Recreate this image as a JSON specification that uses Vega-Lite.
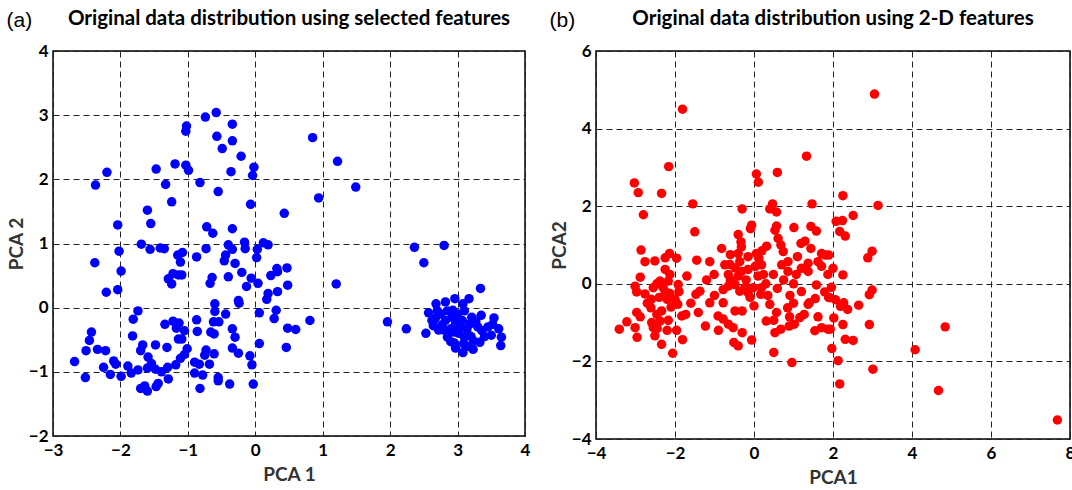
{
  "$schema": "https://vega.github.io/schema/vega-lite/v6.json",
  "padding": {"left": 6, "top": 7, "right": 0, "bottom": 0},
  "background": "white",
  "datasets": {
    "a": [
      {"x":-0.58,"y":3.04},{"x":-0.74,"y":2.97},{"x":-1.02,"y":2.83},{"x":-1.03,"y":2.75},{"x":-0.34,"y":2.86},{"x":-0.57,"y":2.67},{"x":-0.34,"y":2.60},{"x":-0.49,"y":2.48},{"x":-0.21,"y":2.36},{"x":-0.02,"y":2.19},{"x":-0.04,"y":2.06},{"x":-2.20,"y":2.11},{"x":-2.37,"y":1.91},{"x":-1.47,"y":2.16},{"x":-1.19,"y":2.24},{"x":-1.03,"y":2.22},{"x":-0.99,"y":2.14},{"x":-0.36,"y":2.12},{"x":-1.33,"y":1.92},{"x":-0.82,"y":1.95},{"x":-0.55,"y":1.81},{"x":-1.24,"y":1.65},{"x":-0.07,"y":1.61},{"x":0.43,"y":1.47},{"x":-1.60,"y":1.52},{"x":-1.55,"y":1.31},{"x":-2.04,"y":1.29},{"x":-0.72,"y":1.26},{"x":-0.63,"y":1.16},{"x":-0.34,"y":1.23},{"x":-1.69,"y":0.99},{"x":-2.02,"y":0.88},{"x":-1.56,"y":0.91},{"x":-1.41,"y":0.93},{"x":-1.35,"y":0.92},{"x":-1.15,"y":0.82},{"x":-1.08,"y":0.86},{"x":-1.11,"y":0.71},{"x":-0.87,"y":0.79},{"x":-0.73,"y":0.92},{"x":-0.40,"y":0.98},{"x":-0.16,"y":1.02},{"x":-0.15,"y":0.92},{"x":-0.34,"y":0.91},{"x":-0.44,"y":0.82},{"x":-0.46,"y":0.73},{"x":-0.30,"y":0.69},{"x":0.03,"y":0.91},{"x":0.12,"y":1.01},{"x":0.19,"y":0.98},{"x":0.02,"y":0.78},{"x":-2.38,"y":0.70},{"x":0.32,"y":0.61},{"x":0.47,"y":0.62},
      {"x":-1.99,"y":0.57},{"x":-2.21,"y":0.24},{"x":-2.04,"y":0.28},{"x":-1.29,"y":0.45},{"x":-1.22,"y":0.53},{"x":-1.14,"y":0.51},{"x":-1.09,"y":0.51},{"x":-1.24,"y":0.37},{"x":-0.40,"y":0.48},{"x":-0.20,"y":0.55},{"x":-0.64,"y":0.47},{"x":-0.67,"y":0.38},{"x":-0.06,"y":0.46},{"x":0.04,"y":0.38},{"x":-0.13,"y":0.33},{"x":0.23,"y":0.50},{"x":0.33,"y":0.56},{"x":0.48,"y":0.35},{"x":0.19,"y":0.22},{"x":0.33,"y":0.25},{"x":0.17,"y":0.13},{"x":-0.25,"y":0.11},{"x":-0.24,"y":0.07},{"x":-0.60,"y":0.06},{"x":-0.60,"y":-0.06},{"x":-0.44,"y":-0.10},{"x":-0.54,"y":-0.22},{"x":-0.62,"y":-0.22},{"x":-0.66,"y":-0.38},{"x":-0.61,"y":-0.41},{"x":-0.87,"y":-0.19},{"x":-0.86,"y":-0.37},{"x":-0.34,"y":-0.33},{"x":-0.30,"y":-0.46},{"x":0.06,"y":-0.08},{"x":0.31,"y":-0.04},{"x":0.28,"y":-0.17},{"x":0.48,"y":-0.32},{"x":0.46,"y":-0.62},{"x":0.06,"y":-0.56},{"x":-0.34,"y":-0.63},{"x":-0.25,"y":-0.71},{"x":-0.08,"y":-0.75},{"x":-0.05,"y":-0.89},{"x":-0.03,"y":-1.19},{"x":-0.38,"y":-1.19},{"x":-0.55,"y":-1.09},{"x":-0.55,"y":-1.14},{"x":-0.82,"y":-1.26},{"x":-0.78,"y":-1.05},{"x":-0.68,"y":-0.88},{"x":-0.73,"y":-0.66},{"x":-0.61,"y":-0.72},{"x":-0.75,"y":-0.74},{"x":-0.90,"y":-0.85},{"x":-0.83,"y":-0.88},{"x":-0.90,"y":-1.02},{"x":-1.01,"y":-0.64},{"x":-1.09,"y":-0.49},{"x":-1.14,"y":-0.49},{"x":-1.05,"y":-0.36},{"x":-1.13,"y":-0.24},{"x":-1.22,"y":-0.21},{"x":-1.17,"y":-0.32},{"x":-1.34,"y":-0.26},{"x":-1.31,"y":-0.62},{"x":-1.48,"y":-0.58},{"x":-1.74,"y":-0.05},{"x":-1.81,"y":-0.18},{"x":-1.82,"y":-0.44},{"x":-1.67,"y":-0.58},{"x":-1.70,"y":-0.67},{"x":-1.59,"y":-0.77},{"x":-1.54,"y":-0.87},{"x":-1.60,"y":-0.94},{"x":-1.48,"y":-0.96},{"x":-1.39,"y":-1.00},{"x":-1.30,"y":-0.93},{"x":-1.29,"y":-1.11},{"x":-1.44,"y":-1.18},{"x":-1.47,"y":-1.23},{"x":-1.60,"y":-1.30},{"x":-1.70,"y":-1.26},{"x":-1.64,"y":-1.22},{"x":-1.18,"y":-0.89},{"x":-1.11,"y":-0.79},{"x":-1.05,"y":-0.73},{"x":-1.74,"y":-0.97},{"x":-1.89,"y":-0.91},{"x":-1.84,"y":-1.02},{"x":-1.99,"y":-1.07},{"x":-2.15,"y":-1.04},{"x":-2.25,"y":-0.93},{"x":-2.10,"y":-0.83},{"x":-2.07,"y":-0.88},{"x":-2.22,"y":-0.67},{"x":-2.34,"y":-0.65},{"x":-2.51,"y":-0.67},{"x":-2.46,"y":-0.51},{"x":-2.43,"y":-0.38},{"x":-2.68,"y":-0.84},{"x":-2.52,"y":-1.09},
      {"x":0.85,"y":2.65},{"x":1.22,"y":2.28},{"x":1.49,"y":1.88},{"x":0.94,"y":1.71},{"x":2.36,"y":0.94},{"x":2.80,"y":0.97},{"x":2.50,"y":0.70},{"x":1.20,"y":0.37},{"x":0.81,"y":-0.20},{"x":0.60,"y":-0.34},{"x":1.96,"y":-0.22},{"x":2.24,"y":-0.33},{"x":3.34,"y":0.30},
      {"x":2.68,"y":0.06},{"x":2.82,"y":0.09},{"x":2.96,"y":0.14},{"x":3.08,"y":0.06},{"x":3.17,"y":0.14},{"x":2.57,"y":-0.08},{"x":2.53,"y":-0.40},{"x":2.93,"y":-0.04},{"x":2.67,"y":-0.17},{"x":2.82,"y":-0.20},{"x":2.64,"y":-0.28},{"x":2.72,"y":-0.35},{"x":2.85,"y":-0.46},{"x":2.97,"y":-0.25},{"x":3.07,"y":-0.20},{"x":3.21,"y":-0.15},{"x":3.27,"y":-0.21},{"x":3.36,"y":-0.36},{"x":3.54,"y":-0.16},{"x":3.52,"y":-0.26},{"x":3.61,"y":-0.33},{"x":3.50,"y":-0.43},{"x":3.65,"y":-0.46},{"x":3.64,"y":-0.59},{"x":2.97,"y":-0.63},{"x":3.08,"y":-0.70},{"x":3.23,"y":-0.65},{"x":3.24,"y":-0.52},{"x":3.33,"y":-0.54},{"x":3.09,"y":-0.56},{"x":3.02,"y":-0.40},{"x":3.14,"y":-0.33},{"x":2.90,"y":-0.33},{"x":2.77,"y":-0.27},{"x":3.19,"y":-0.25},{"x":2.92,"y":-0.15},{"x":3.10,"y":-0.46},{"x":2.90,"y":-0.53},
      {"x":2.75,"y":-0.10},{"x":2.85,"y":-0.05},{"x":3.00,"y":-0.10},{"x":3.10,"y":-0.05},{"x":2.80,"y":-0.35},{"x":2.95,"y":-0.38},{"x":3.05,"y":-0.30},{"x":3.15,"y":-0.42},{"x":2.95,"y":-0.55},{"x":3.20,"y":-0.45},{"x":3.30,"y":-0.30},{"x":3.40,"y":-0.45},{"x":2.62,"y":-0.20},{"x":3.00,"y":-0.22},{"x":3.35,"y":-0.12},{"x":3.15,"y":-0.60},{"x":2.70,"y":-0.05},{"x":3.45,"y":-0.30}
    ],
    "b": [
      {"x":-1.81,"y":4.50},{"x":1.33,"y":3.29},{"x":-2.16,"y":3.02},{"x":-3.03,"y":2.60},{"x":-2.93,"y":2.35},{"x":-2.34,"y":2.33},{"x":-2.80,"y":1.78},{"x":-1.55,"y":2.06},{"x":0.06,"y":2.83},{"x":0.11,"y":2.62},{"x":0.59,"y":2.87},{"x":-0.30,"y":1.93},{"x":0.47,"y":2.06},{"x":0.40,"y":1.93},{"x":0.57,"y":1.85},{"x":1.47,"y":2.06},{"x":-1.50,"y":1.34},{"x":-0.06,"y":1.51},{"x":-0.09,"y":1.42},{"x":-0.40,"y":1.27},{"x":-0.33,"y":1.08},{"x":-0.32,"y":0.95},{"x":0.32,"y":0.97},{"x":0.57,"y":1.49},{"x":0.53,"y":1.38},{"x":0.61,"y":1.17},{"x":0.68,"y":1.00},{"x":0.74,"y":0.83},{"x":1.01,"y":1.45},{"x":1.44,"y":1.48},{"x":1.58,"y":1.36},{"x":1.19,"y":1.04},{"x":1.29,"y":1.10},{"x":1.44,"y":0.91},{"x":1.71,"y":0.78},{"x":1.81,"y":0.74},{"x":1.62,"y":0.57},{"x":-2.86,"y":0.87},{"x":-2.76,"y":0.57},{"x":-2.51,"y":0.59},{"x":-2.25,"y":0.67},{"x":-2.14,"y":0.78},{"x":-1.96,"y":0.66},{"x":-1.45,"y":0.61},{"x":-1.12,"y":0.57},{"x":-0.82,"y":0.91},{"x":-0.74,"y":0.49},{"x":-0.61,"y":0.50},{"x":-0.40,"y":0.78},{"x":-0.36,"y":0.57},{"x":-0.15,"y":0.70},{"x":0.06,"y":0.78},{"x":0.12,"y":0.66},{"x":0.19,"y":0.49},{"x":0.70,"y":0.49},{"x":0.86,"y":0.57},{"x":1.20,"y":0.40},{"x":1.37,"y":0.53},
      {"x":-0.48,"y":0.41},{"x":-0.32,"y":0.32},{"x":-0.15,"y":0.37},{"x":0.03,"y":0.45},{"x":0.24,"y":0.24},{"x":0.49,"y":0.24},{"x":0.86,"y":0.32},{"x":1.07,"y":0.24},{"x":1.37,"y":0.32},{"x":1.71,"y":0.45},{"x":1.87,"y":0.24},{"x":-1.01,"y":0.24},{"x":-0.65,"y":0.24},{"x":-2.25,"y":0.37},{"x":-2.13,"y":0.24},
      {"x":-2.88,"y":0.17},{"x":-3.01,"y":-0.06},{"x":-2.97,"y":-0.21},{"x":-2.76,"y":-0.26},{"x":-2.55,"y":-0.10},{"x":-2.46,"y":0.00},{"x":-2.38,"y":0.07},{"x":-2.30,"y":-0.10},{"x":-2.17,"y":0.07},{"x":-2.13,"y":-0.25},{"x":-1.92,"y":-0.02},{"x":-1.47,"y":-0.27},{"x":-1.37,"y":-0.19},{"x":-0.78,"y":-0.15},{"x":-0.65,"y":-0.06},{"x":-0.48,"y":-0.02},{"x":-0.36,"y":-0.19},{"x":-0.23,"y":-0.10},{"x":-0.15,"y":-0.23},{"x":-0.02,"y":-0.10},{"x":0.19,"y":-0.10},{"x":0.17,"y":-0.27},{"x":0.59,"y":-0.12},{"x":0.91,"y":-0.30},{"x":1.58,"y":-0.03},{"x":1.79,"y":-0.21},{"x":1.92,"y":-0.36},{"x":1.40,"y":-0.49},{"x":1.55,"y":-0.38},
      {"x":-2.97,"y":-0.74},{"x":-2.88,"y":-0.85},{"x":-2.61,"y":-0.62},{"x":-2.59,"y":-1.00},{"x":-2.46,"y":-0.79},{"x":-2.38,"y":-0.96},{"x":-2.34,"y":-0.70},{"x":-2.17,"y":-0.94},{"x":-1.93,"y":-0.53},{"x":-1.83,"y":-0.83},{"x":-1.73,"y":-0.79},{"x":-1.41,"y":-0.74},{"x":-1.12,"y":-0.49},{"x":-1.23,"y":-1.09},{"x":-0.91,"y":-0.83},{"x":-0.78,"y":-0.49},{"x":-0.78,"y":-0.91},{"x":-0.65,"y":-1.04},{"x":-0.53,"y":-1.13},{"x":-0.48,"y":-0.70},{"x":-0.30,"y":-0.70},{"x":-0.30,"y":-1.26},{"x":-0.51,"y":-1.51},{"x":-0.40,"y":-1.60},{"x":-0.06,"y":-1.45},{"x":0.00,"y":-0.57},{"x":0.31,"y":-0.96},{"x":0.40,"y":-0.53},{"x":0.50,"y":-0.94},{"x":0.53,"y":-1.26},{"x":0.57,"y":-0.74},{"x":0.68,"y":-1.17},{"x":0.85,"y":-0.62},{"x":0.89,"y":-1.09},{"x":1.02,"y":-1.04},{"x":1.16,"y":-0.87},{"x":1.27,"y":-0.79},{"x":1.37,"y":-0.53},{"x":1.62,"y":-0.85},{"x":1.54,"y":-1.21},{"x":1.71,"y":-1.13},{"x":1.87,"y":-1.17},{"x":0.50,"y":-1.77},{"x":0.96,"y":-2.03},{"x":-2.06,"y":-1.79},{"x":-2.34,"y":-1.56},{"x":-2.96,"y":-1.38},{"x":-3.41,"y":-1.17},{"x":-3.22,"y":-0.98},{"x":-3.01,"y":-1.13},{"x":-2.51,"y":-1.34},{"x":-2.55,"y":-1.13},{"x":-1.81,"y":-1.44},{"x":-1.96,"y":-1.20},
      {"x":3.05,"y":4.89},{"x":2.25,"y":2.27},{"x":3.14,"y":2.02},{"x":2.51,"y":1.76},{"x":2.08,"y":1.61},{"x":2.24,"y":1.63},{"x":2.17,"y":1.35},{"x":2.31,"y":1.23},{"x":1.89,"y":0.74},{"x":2.99,"y":0.84},{"x":2.88,"y":0.67},{"x":2.00,"y":0.40},{"x":2.25,"y":0.23},{"x":1.96,"y":-0.09},{"x":2.99,"y":-0.16},{"x":2.92,"y":-0.28},{"x":1.89,"y":-0.35},{"x":2.06,"y":-0.41},{"x":2.27,"y":-0.49},{"x":2.19,"y":-0.58},{"x":2.37,"y":-0.66},{"x":2.65,"y":-0.55},{"x":2.02,"y":-0.88},{"x":2.25,"y":-1.05},{"x":2.92,"y":-1.05},{"x":1.93,"y":-1.17},{"x":4.84,"y":-1.11},{"x":2.31,"y":-1.43},{"x":2.51,"y":-1.46},{"x":1.97,"y":-1.67},{"x":4.08,"y":-1.70},{"x":2.13,"y":-1.98},{"x":3.01,"y":-2.20},{"x":2.17,"y":-2.58},{"x":4.67,"y":-2.75},{"x":7.68,"y":-3.51},
      {"x":-2.20,"y":-0.40},{"x":-2.10,"y":-0.60},{"x":-2.40,"y":-0.35},{"x":-2.25,"y":-0.20},{"x":-2.00,"y":-0.40},{"x":-1.90,"y":-0.20},{"x":-2.60,"y":-0.40},{"x":-2.70,"y":-0.50},{"x":-0.40,"y":0.20},{"x":-0.20,"y":0.10},{"x":0.10,"y":0.20},{"x":0.30,"y":0.00},{"x":-0.60,"y":0.10},{"x":-0.10,"y":-0.35},{"x":0.35,"y":-0.30},{"x":0.75,"y":0.10},{"x":1.00,"y":0.00},{"x":1.20,"y":-0.20},{"x":1.00,"y":-0.50},{"x":-1.00,"y":-0.30},{"x":-1.20,"y":0.10},{"x":-1.60,"y":-0.50},{"x":-1.70,"y":0.20},{"x":0.20,"y":0.85},{"x":-0.60,"y":0.75},{"x":1.10,"y":0.70},{"x":0.90,"y":-0.85},{"x":-0.90,"y":-1.20},{"x":-2.45,"y":-1.15},{"x":-2.20,"y":-1.20}
    ]
  },
  "config": {
    "font": "Lato",
    "view": {"stroke": "black", "strokeWidth": 1.5},
    "axis": {
      "grid": true, "gridColor": "#222222", "gridDash": [6, 4], "gridWidth": 1, "gridOpacity": 1,
      "domain": false, "ticks": false, "labelFlush": false, "labelOverlap": false,
      "labelFont": "Lato", "labelFontSize": 17, "labelFontWeight": "bold", "labelColor": "black",
      "titleFont": "Lato", "titleFontSize": 19, "titleFontWeight": "bold", "titleColor": "#333333"
    },
    "axisX": {"labelPadding": 6, "titlePadding": 7},
    "axisY": {"labelPadding": 5, "titlePadding": 2},
    "title": {"font": "Lato", "fontSize": 20.5, "fontWeight": "bold", "color": "black"},
    "concat": {"spacing": 18}
  },
  "hconcat": [
    {
      "title": {"text": "(a)", "anchor": "start", "font": "Liberation Sans", "fontWeight": "normal", "fontSize": 21, "offset": -23},
      "vconcat": [
        {
          "title": {"text": "Original data distribution using selected features", "offset": 13},
          "width": 472, "height": 385,
          "data": {"name": "a"},
          "mark": {"type": "circle", "size": 90, "opacity": 1, "color": "#0000ff"},
          "encoding": {
            "x": {"field": "x", "type": "quantitative", "scale": {"domain": [-3, 4], "nice": false, "zero": false}, "axis": {"title": "PCA 1", "values": [-3, -2, -1, 0, 1, 2, 3, 4]}},
            "y": {"field": "y", "type": "quantitative", "scale": {"domain": [-2, 4], "nice": false, "zero": false}, "axis": {"title": "PCA 2", "values": [-2, -1, 0, 1, 2, 3, 4]}}
          }
        }
      ]
    },
    {
      "title": {"text": "(b)", "anchor": "start", "font": "Liberation Sans", "fontWeight": "normal", "fontSize": 21, "offset": -23},
      "vconcat": [
        {
          "title": {"text": "Original data distribution using 2-D features", "offset": 13},
          "width": 474, "height": 388,
          "data": {"name": "b"},
          "mark": {"type": "circle", "size": 90, "opacity": 1, "color": "#ff0000"},
          "encoding": {
            "x": {"field": "x", "type": "quantitative", "scale": {"domain": [-4, 8], "nice": false, "zero": false}, "axis": {"title": "PCA1", "values": [-4, -2, 0, 2, 4, 6, 8]}},
            "y": {"field": "y", "type": "quantitative", "scale": {"domain": [-4, 6], "nice": false, "zero": false}, "axis": {"title": "PCA2", "values": [-4, -2, 0, 2, 4, 6]}}
          }
        }
      ]
    }
  ]
}
